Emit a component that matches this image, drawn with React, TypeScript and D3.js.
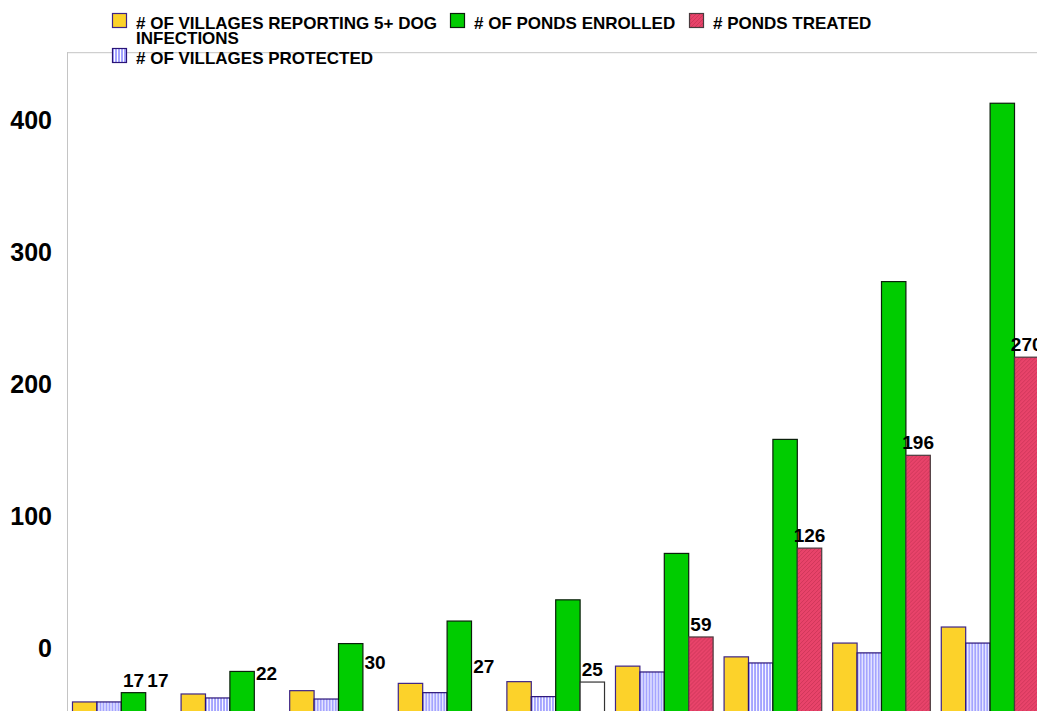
import React from "react";
import * as d3 from "d3";

// ---- data ----
const categories = ["1", "2", "3", "4", "5", "6", "7", "8", "9"];
const villagesReporting = [10, 16, 18.5, 24, 25.3, 37, 44, 54.4, 66.5];
const villagesProtected = [10, 13, 12.2, 17, 14, 32.6, 39.4, 47, 54.4];
const pondsEnrolled = [17, 33, 54, 71, 87, 122, 208, 327, 461.5];
const pondsTreated = [17, 22, 30, 27, 25, 59, 126, 196, 270];
const treatedBarKind = ["hidden", "hidden", "hidden", "hidden", "blank", "solid", "solid", "solid", "solid"];
const enrolledLabels = ["17", "", "", "", "", "", "", "", ""];
const tickLabels = [0, 100, 200, 300, 400];

const seriesKeys = ["reporting", "protected", "enrolled", "treated"];
const legendRow1 = [
  { key: "reporting", lines: ["# OF VILLAGES REPORTING 5+ DOG", "INFECTIONS"] },
  { key: "enrolled", lines: ["# OF PONDS ENROLLED"] },
  { key: "treated", lines: ["# PONDS TREATED"] },
];
const legendRow2 = [{ key: "protected", lines: ["# OF VILLAGES PROTECTED"] }];

const W = 1037;
const H = 711;
const FONT = "'Liberation Sans', Arial, Helvetica, sans-serif";

const fills: Record<string, string> = {
  reporting: "#FCD22A",
  protected: "url(#stripes)",
  enrolled: "#00CC00",
  treated: "url(#hatch)",
};
const strokes: Record<string, string> = {
  reporting: "#3d2488",
  protected: "#2a1478",
  enrolled: "#0b1f0b",
  treated: "#4a3a3e",
};

export default function App() {
  const x0 = d3
    .scaleBand<string>()
    .domain(categories)
    .range([67, 1044.4])
    .paddingInner(0.101)
    .paddingOuter(0.0505);
  const x1 = d3.scaleBand<string>().domain(seriesKeys).range([0, x0.bandwidth()]);
  const y = d3.scaleLinear().domain([0, 500]).range([715.2, 52.2]);
  const yTick = d3.scaleLinear().domain([0, 400]).range([648, 120]);

  const values: Record<string, number[]> = {
    reporting: villagesReporting,
    protected: villagesProtected,
    enrolled: pondsEnrolled,
    treated: pondsTreated,
  };

  const frameTop = y(500);
  const frameLeft = x0.range()[0];

  return (
    <svg
      width={W}
      height={H}
      style={{ position: "absolute", left: 0, top: 0, background: "#fff" }}
      fontFamily={FONT}
    >
      <defs>
        <pattern id="stripes" width={3} height={4} patternUnits="userSpaceOnUse">
          <rect width={3} height={4} fill="#ffffff" />
          <rect width={2} height={4} fill="#a4a4ff" />
        </pattern>
        <pattern id="hatch" width={4} height={4} patternUnits="userSpaceOnUse">
          <rect width={4} height={4} fill="#E8436A" />
          <path d="M0,4 L4,0 M-1,1 L1,-1 M3,5 L5,3" stroke="#c93456" strokeWidth={0.8} />
        </pattern>
        <pattern id="stripesLegend" width={3} height={4} patternUnits="userSpaceOnUse">
          <rect width={3} height={4} fill="#ffffff" />
          <rect width={2} height={4} fill="#a4a4ff" />
        </pattern>
      </defs>
      <rect width={W} height={H} fill="#fff" />

      {/* plot frame */}
      <line x1={frameLeft} x2={W} y1={frameTop + 0.5} y2={frameTop + 0.5} stroke="#c4c4c4" />
      <line x1={frameLeft + 0.5} x2={frameLeft + 0.5} y1={frameTop} y2={H} stroke="#c4c4c4" />

      {/* y tick labels */}
      {tickLabels.map((t) => (
        <text
          key={t}
          x={52}
          y={yTick(t)}
          textAnchor="end"
          dominantBaseline="central"
          fontSize={25}
          fontWeight="bold"
          fill="#000"
        >
          {t}
        </text>
      ))}

      {/* bars */}
      {categories.map((c, i) => (
        <g key={c} transform={`translate(${x0(c)},0)`}>
          {seriesKeys.map((k) => {
            const v = values[k][i];
            const bx = x1(k)!;
            const bw = x1.bandwidth();
            if (k === "treated" && treatedBarKind[i] === "hidden") return null;
            const fill = k === "treated" && treatedBarKind[i] === "blank" ? "#ffffff" : fills[k];
            const stroke = k === "treated" && treatedBarKind[i] === "blank" ? "#333" : strokes[k];
            return (
              <rect
                key={k}
                x={bx}
                y={y(v)}
                width={bw}
                height={y(0) - y(v)}
                fill={fill}
                stroke={stroke}
                strokeWidth={1.2}
              />
            );
          })}
          {enrolledLabels[i] ? (
            <text
              x={x1("enrolled")! + x1.bandwidth() / 2}
              y={y(pondsEnrolled[i]) - 6}
              textAnchor="middle"
              fontSize={19}
              fontWeight="bold"
              fill="#000"
            >
              {enrolledLabels[i]}
            </text>
          ) : null}
          <text
            x={x1("treated")! + x1.bandwidth() / 2}
            y={y(pondsTreated[i]) - 6}
            textAnchor="middle"
            fontSize={19}
            fontWeight="bold"
            fill="#000"
          >
            {pondsTreated[i]}
          </text>
        </g>
      ))}

      {/* legend */}
      {[
        { items: legendRow1, xs: [112, 450, 689], top: 13 },
        { items: legendRow2, xs: [112], top: 48 },
      ].map((row, ri) => (
        <g key={ri}>
          {row.items.map((it, j) => (
            <g key={it.key} transform={`translate(${row.xs[j]},${row.top})`}>
              <rect
                x={0.5}
                y={0.5}
                width={14}
                height={14}
                fill={it.key === "protected" ? "url(#stripesLegend)" : fills[it.key]}
                stroke={strokes[it.key]}
                strokeWidth={1.2}
              />
              {it.lines.map((ln, li) => (
                <text
                  key={li}
                  x={24}
                  y={15.5 + li * 15}
                  fontSize={17}
                  fontWeight="bold"
                  fill="#000"
                >
                  {ln}
                </text>
              ))}
            </g>
          ))}
        </g>
      ))}
    </svg>
  );
}
